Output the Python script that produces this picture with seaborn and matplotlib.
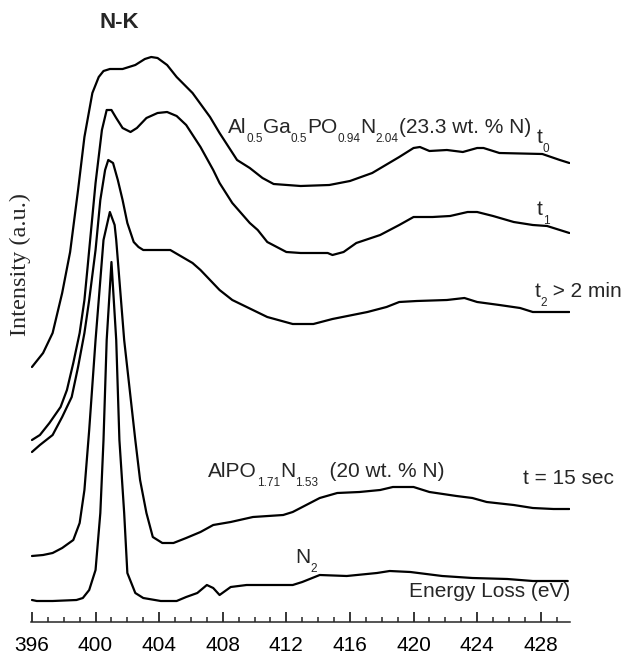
import matplotlib
matplotlib.use("Agg")
import matplotlib.pyplot as plt
import seaborn as sns
import pandas as pd
import numpy as np

sns.set_style("ticks")
plt.rcParams['font.family'] = ['Liberation Sans', 'DejaVu Sans']

# ---- data (energy loss in eV, intensity in arbitrary offset units) ----
t0_E = [396.0, 396.7, 397.3, 397.9, 398.4, 398.9, 399.3, 399.8, 400.2, 400.5, 400.9, 401.7,
        402.5, 403.1, 403.5, 403.9, 404.5, 405.1, 406.1, 407.2, 407.8, 408.9, 409.7, 410.5,
        411.2, 412.9, 414.7, 416.0, 417.4, 419.1, 420.0, 420.4, 421.0, 422.1, 423.1, 424.0,
        424.4, 425.4, 428.1, 429.2, 429.8]
t0_I = [255, 269, 289, 329, 370, 432, 485, 529, 545, 551, 553, 553,
        557, 563, 565, 564, 557, 545, 529, 505, 489, 462, 454, 444,
        438, 436, 437, 441, 449, 465, 474, 475, 471, 472, 470, 474,
        474, 469, 468, 462, 459]

t1_E = [396.0, 396.5, 397.1, 397.8, 398.2, 398.6, 399.0, 399.3, 399.5, 399.6, 400.0, 400.4,
        400.7, 401.0, 401.3, 401.7, 402.2, 402.6, 403.2, 403.9, 404.5, 405.1, 405.7, 406.6,
        407.4, 407.8, 408.6, 409.7, 410.2, 410.8, 412.0, 412.9, 414.6, 414.9, 415.6, 416.4,
        417.9, 419.1, 420.0, 421.2, 422.3, 423.4, 424.0, 425.0, 426.3, 427.5, 428.4, 429.8]
t1_I = [182, 187, 199, 215, 232, 259, 289, 322, 355, 372, 439, 492,
        512, 512, 504, 494, 490, 494, 504, 509, 510, 506, 497, 475,
        452, 439, 419, 399, 392, 380, 370, 369, 369, 367, 370, 379,
        387, 397, 405, 405, 406, 410, 410, 406, 400, 397, 396, 389]

t2_E = [396.0, 396.5, 397.3, 397.9, 398.5, 398.9, 399.3, 399.6, 400.0, 400.3, 400.6, 400.8,
        401.1, 401.4, 401.7, 402.0, 402.4, 402.7, 403.0, 404.7, 406.1, 406.6, 407.8, 408.6,
        410.8, 412.4, 413.7, 414.9, 417.1, 418.3, 419.1, 420.2, 422.1, 423.2, 424.0, 425.4,
        426.7, 427.5, 429.8]
t2_I = [170, 177, 187, 205, 225, 255, 289, 322, 372, 422, 452, 462,
        459, 442, 422, 399, 380, 375, 372, 372, 359, 352, 332, 322,
        305, 298, 298, 303, 310, 315, 320, 321, 322, 324, 320, 317,
        314, 310, 310]

alpo_E = [396.0, 396.7, 397.3, 397.9, 398.6, 399.0, 399.3, 399.5, 399.6, 400.0, 400.5, 400.9,
          401.2, 401.3, 401.8, 402.5, 402.8, 403.2, 403.6, 404.2, 404.9, 405.7, 406.6, 407.4,
          408.5, 409.9, 411.8, 412.4, 414.1, 415.2, 416.6, 417.9, 418.7, 420.0, 421.0, 422.7,
          423.7, 424.6, 426.3, 427.5, 428.8, 429.8]
alpo_I = [66, 67, 69, 74, 82, 99, 132, 172, 192, 282, 382, 410,
          397, 382, 282, 182, 142, 109, 85, 79, 79, 84, 90, 97,
          100, 105, 107, 110, 124, 129, 130, 132, 135, 135, 130, 126,
          124, 120, 117, 114, 113, 113]

n2_E = [396.0, 396.3, 397.3, 398.8, 399.2, 399.6, 400.0, 400.3, 400.5, 400.7, 401.0, 401.3,
        401.5, 401.8, 402.0, 402.5, 403.0, 404.1, 405.1, 405.7, 406.4, 407.0, 407.4, 407.8,
        408.5, 409.5, 412.4, 413.0, 414.1, 415.8, 417.7, 418.5, 419.8, 421.8, 423.7, 425.9,
        427.5, 429.7]
n2_I = [22, 21, 21, 22, 24, 32, 52, 109, 182, 282, 360, 282,
        182, 109, 49, 29, 24, 21, 21, 25, 29, 37, 34, 27,
        35, 37, 37, 40, 47, 46, 49, 51, 50, 46, 44, 43,
        41, 41]

xticks = [396, 400, 404, 408, 412, 416, 420, 424, 428]

series = {
    "t0": (t0_E, t0_I),
    "t1": (t1_E, t1_I),
    "t2": (t2_E, t2_I),
    "AlPON": (alpo_E, alpo_I),
    "N2": (n2_E, n2_I),
}
frames = [pd.DataFrame({"E": e, "I": i, "s": name}) for name, (e, i) in series.items()]
df = pd.concat(frames, ignore_index=True)

W, H = 623, 657
fig = plt.figure(figsize=(W / 100, H / 100), dpi=100)
ax = fig.add_axes([31 / W, 35 / H, (570 - 31) / W, 582 / H])

for name in series:
    sns.lineplot(data=df[df.s == name], x="E", y="I", ax=ax, color="black",
                 linewidth=1.6, sort=False, estimator=None, legend=False)

ax.set_xlim(395.94, 429.84)
ax.set_ylim(0, 582)
sns.despine(ax=ax, left=True, top=True, right=True)
ax.spines['bottom'].set_linewidth(1.1)
ax.set_yticks([])
ax.set_xticks(xticks)
ax.set_xticklabels([str(t) for t in xticks])
ax.set_xticks(np.arange(396, 430, 1), minor=True)
ax.tick_params(axis='x', which='major', direction='in', length=7.2, width=1.1,
               pad=10, labelsize=15, colors='black')
ax.tick_params(axis='x', which='minor', direction='in', length=3.6, width=1.1)
ax.set_xlabel("")
ax.set_ylabel("")
ax.set_facecolor('white')

renderer = fig.canvas.get_renderer()
FS, SFS, DROP = 15, 8.5, 9


def ftext(px, py, s, **kw):
    return fig.text(px / W, 1 - py / H, s, va='baseline', **kw)


def rich(px, py, parts):
    """parts: list of (text, is_subscript)"""
    x = px
    for txt, sub in parts:
        t = ftext(x, py + (DROP if sub else 0), txt, fontsize=SFS if sub else FS)
        x += t.get_window_extent(renderer).width


rich(228, 133, [("Al", 0), ("0.5", 1), ("Ga", 0), ("0.5", 1), ("PO", 0), ("0.94", 1),
                ("N", 0), ("2.04", 1), ("(23.3 wt. % N)", 0)])
rich(537, 143, [("t", 0), ("0", 1)])
rich(537, 215, [("t", 0), ("1", 1)])
rich(535, 297, [("t", 0), ("2", 1), (" > 2 min", 0)])
rich(208, 477, [("AlPO", 0), ("1.71", 1), ("N", 0), ("1.53", 1), ("  (20 wt. % N)", 0)])
ftext(523, 484, 't = 15 sec', fontsize=FS)
rich(295, 563, [("N", 0), ("2", 1)])
ftext(570, 597, 'Energy Loss (eV)', fontsize=FS, ha='right')
ftext(99, 28, 'N-K', fontsize=16, fontweight='bold')
fig.text(20 / W, 1 - 265 / H, 'Intensity (a.u.)', rotation=90, ha='center', va='center',
         fontsize=17.5, family=['Liberation Serif', 'DejaVu Serif'])

fig.savefig("out.png", dpi=100, facecolor='white')
